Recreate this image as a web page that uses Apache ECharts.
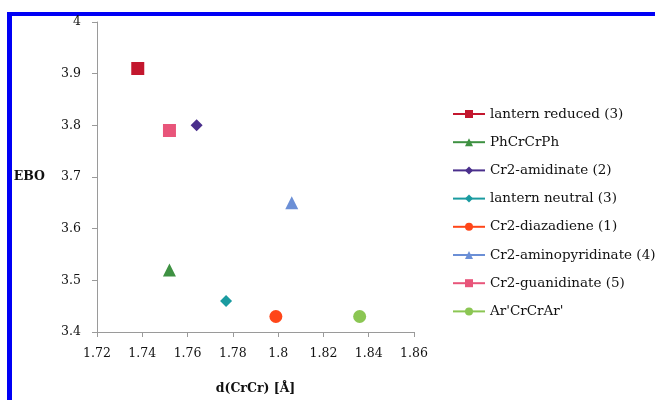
<!DOCTYPE html>
<html>
<head>
<meta charset="utf-8">
<script src="https://cdn.jsdelivr.net/npm/echarts@6/dist/echarts.min.js"></script>
<style>
html,body{margin:0;padding:0;background:#fff;}
#chart{width:655px;height:400px;}
</style>
</head>
<body>
<div id="chart"></div>
<script>
// Data
var seriesNames = ["lantern reduced (3)", "PhCrCrPh", "Cr2-amidinate (2)", "lantern neutral (3)", "Cr2-diazadiene (1)", "Cr2-aminopyridinate (4)", "Cr2-guanidinate (5)", "Ar'CrCrAr'"];
var dCrCr = [1.738, 1.752, 1.764, 1.777, 1.799, 1.806, 1.752, 1.836];
var ebo = [3.91, 3.52, 3.80, 3.46, 3.43, 3.65, 3.79, 3.43];
var xTicks = [1.72, 1.74, 1.76, 1.78, 1.80, 1.82, 1.84, 1.86];
var yTicks = [3.4, 3.5, 3.6, 3.7, 3.8, 3.9, 4.0];

// Styles
var symbols = ['rect', 'triangle', 'diamond', 'diamond', 'circle', 'triangle', 'rect', 'circle'];
var sizes = [13, 13, 12, 12, 13, 13, 13, 13];
var colors = ['#c3172e', '#3e9142', '#4a2f8c', '#1a9ba0', '#ff4619', '#6b8fd6', '#e8557a', '#8bc653'];
var FONT = 'DejaVu Serif';

var chart = echarts.init(document.getElementById('chart'));
var series = seriesNames.map(function (n, i) {
  return {
    name: n,
    type: 'line',
    data: [[dCrCr[i], ebo[i]]],
    symbol: symbols[i],
    symbolSize: sizes[i],
    showSymbol: true,
    itemStyle: { color: colors[i] },
    lineStyle: { color: colors[i], width: 3 },
    emphasis: { disabled: true },
    animation: false
  };
});

chart.setOption({
  animation: false,
  graphic: [
    { type: 'rect', shape: { x: 7, y: 12, width: 648, height: 4 }, style: { fill: '#0000f5' } },
    { type: 'rect', shape: { x: 7, y: 12, width: 5, height: 388 }, style: { fill: '#0000f5' } }
  ],
  grid: { left: 97, right: 241, top: 22, bottom: 67, containLabel: false },
  legend: {
    orient: 'vertical',
    left: 452,
    top: 107,
    padding: 0,
    itemWidth: 32,
    itemHeight: 10,
    itemGap: 14.2,
    data: seriesNames,
    textStyle: { fontFamily: FONT, fontSize: 13.5, lineHeight: 14, color: '#111' }
  },
  xAxis: {
    type: 'value',
    min: xTicks[0],
    max: xTicks[xTicks.length - 1],
    interval: 0.02,
    name: 'd(CrCr) [Å]',
    nameLocation: 'middle',
    nameGap: 50,
    nameTextStyle: { fontFamily: FONT, fontSize: 12.5, fontWeight: 'bold', color: '#111' },
    axisLine: { lineStyle: { color: '#9a9a9a', width: 1 } },
    axisTick: { show: true, length: 5, lineStyle: { color: '#9a9a9a' } },
    splitLine: { show: false },
    axisLabel: { fontFamily: FONT, fontSize: 12.5, color: '#111', margin: 15 }
  },
  yAxis: {
    type: 'value',
    min: yTicks[0],
    max: yTicks[yTicks.length - 1],
    interval: 0.1,
    name: 'EBO',
    nameLocation: 'middle',
    nameRotate: 0,
    nameGap: 52,
    nameTextStyle: { fontFamily: FONT, fontSize: 12.5, fontWeight: 'bold', color: '#111' },
    axisLine: { show: true, lineStyle: { color: '#9a9a9a', width: 1 } },
    axisTick: { show: true, length: 5, lineStyle: { color: '#9a9a9a' } },
    splitLine: { show: false },
    axisLabel: { fontFamily: FONT, fontSize: 12.5, color: '#111', margin: 16 }
  },
  series: series
});
</script>
</body>
</html>
